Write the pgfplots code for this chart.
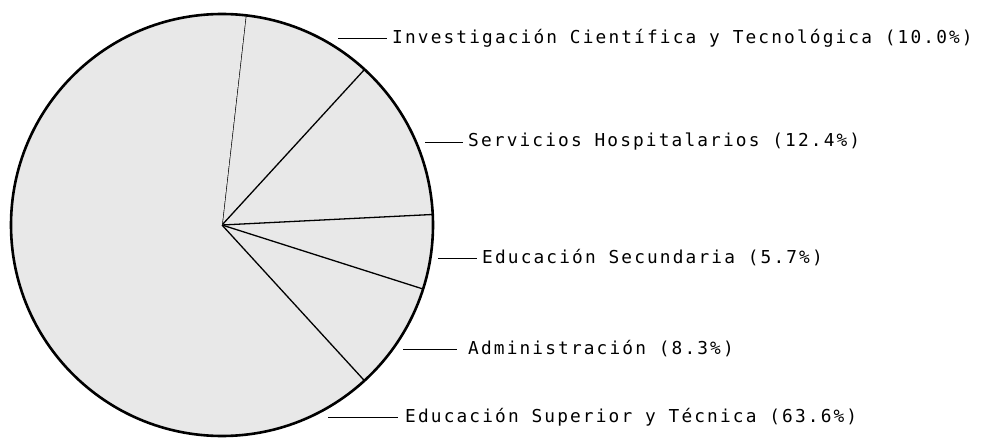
\documentclass[border=0pt]{standalone}
\usepackage{pgfplots}
\usepackage{pgfplotstable}
\pgfplotsset{compat=1.18}
\usepackage{fontspec}
\newfontfamily\lbl[LetterSpace=12]{DejaVu Sans Mono}

% shares of the pie, in %, clockwise from the top
\pgfplotstableread{
share
10.0
12.4
5.7
8.3
63.6
}\piedata

\begin{document}
\begin{tikzpicture}
\begin{axis}[
  width=988pt, height=437pt, scale only axis,
  xmin=0, xmax=988, ymin=0, ymax=437,
  hide axis, clip=false,
]
\addplot[draw=none] coordinates {(0,0) (988,437)};
\def\cx{222}\def\cy{212}\def\R{211}
\def\angle{83.5}
\pgfplotsforeachungrouped \i in {0,...,4}{
  \pgfplotstablegetelem{\i}{share}\of\piedata
  \pgfmathsetmacro\nxt{\angle-3.6*\pgfplotsretval}
  \edef\temp{\noexpand\fill[black!9] (axis cs:\cx,\cy) -- ++(\angle:\R pt)
    arc[start angle=\angle, end angle=\nxt, radius=\R pt] -- cycle;
    \noexpand\draw[line width=1.3pt] (axis cs:\cx,\cy) -- ++(\angle:\R pt);}
  \temp
  \global\let\angle\nxt
}
\draw[line width=2.6pt] (axis cs:\cx,\cy) circle[radius=\R pt];

\begin{scope}[line width=0.9pt]
\draw (axis cs:338,399) -- (axis cs:387,399);
\draw (axis cs:425,295) -- (axis cs:463,295);
\draw (axis cs:438,179) -- (axis cs:477,179);
\draw (axis cs:403,88) -- (axis cs:457,88);
\draw (axis cs:328,20) -- (axis cs:398,20);
\end{scope}
\begin{scope}[every node/.style={anchor=west, inner sep=0pt, font=\lbl\fontsize{17.8}{20}\selectfont}]
\node at (axis cs:392,399) {Investigación Científica y Tecnológica (10.0\%)};
\node at (axis cs:468,295) {Servicios Hospitalarios (12.4\%)};
\node at (axis cs:482,179) {Educación Secundaria (5.7\%)};
\node at (axis cs:468,88) {Administración (8.3\%)};
\node at (axis cs:405,20) {Educación Superior y Técnica (63.6\%)};
\end{scope}
\end{axis}
\pgfresetboundingbox
\path (0,0) rectangle (988pt,437pt);
\end{tikzpicture}
\end{document}
